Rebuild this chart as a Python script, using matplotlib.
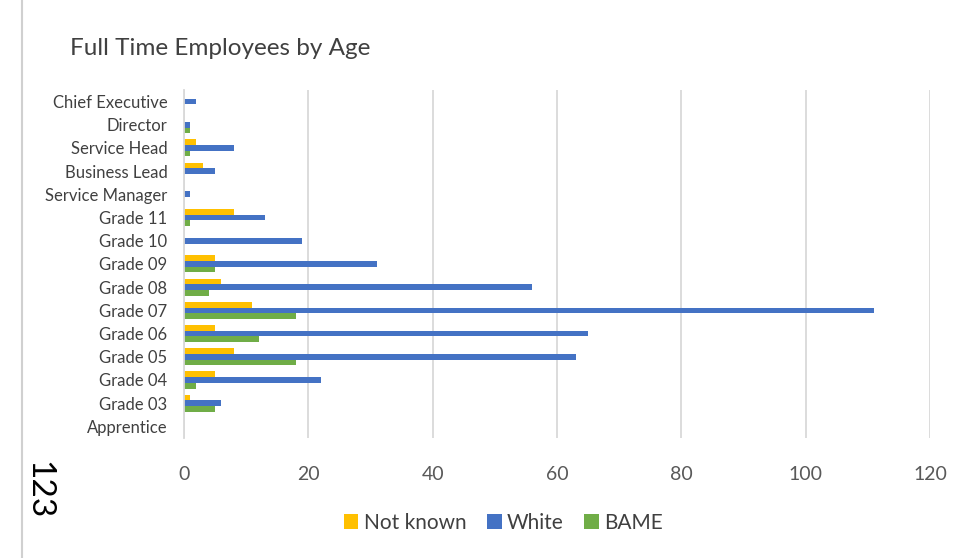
import numpy as np
import matplotlib.pyplot as plt

plt.rcParams['font.family'] = ['Lato', 'DejaVu Sans']

# categories listed bottom to top
grades = ['Apprentice', 'Grade 03', 'Grade 04', 'Grade 05', 'Grade 06', 'Grade 07',
          'Grade 08', 'Grade 09', 'Grade 10', 'Grade 11', 'Service Manager',
          'Business Lead', 'Service Head', 'Director', 'Chief Executive']
not_known = [0, 1, 5, 8, 5, 11, 6, 5, 0, 8, 0, 3, 2, 0, 0]
white = [0, 6, 22, 63, 65, 111, 56, 31, 19, 13, 1, 5, 8, 1, 2]
bame = [0, 5, 2, 18, 12, 18, 4, 5, 0, 1, 0, 0, 1, 1, 0]

fig = plt.figure(figsize=(9.68, 5.58), dpi=100)
ax = fig.add_axes([0.190, 0.215, 0.771, 0.624])

y = np.arange(len(grades))
h = 0.245
ax.barh(y + h, not_known, height=h, color='#FFC000', label='Not known')
ax.barh(y, white, height=h, color='#4472C4', label='White')
ax.barh(y - h, bame, height=h, color='#70AD47', label='BAME')

ax.set_xlim(0, 120)
ax.set_ylim(-0.5, len(grades) - 0.5)
ax.set_xticks(range(0, 121, 20))
ax.set_yticks(y)
ax.set_yticklabels(grades, fontsize=12, color='#404040')
ax.tick_params(axis='x', labelsize=14, colors='#595959', length=0, pad=20)
ax.tick_params(axis='y', length=0, pad=12)
ax.grid(axis='x', color='#d9d9d9', linewidth=1.3)
ax.set_axisbelow(True)
for s in ['top', 'right', 'bottom']:
    ax.spines[s].set_visible(False)
ax.spines['left'].set_color('#d9d9d9')
ax.spines['left'].set_linewidth(1.3)

fig.text(0.072, 0.913, 'Full Time Employees by Age', fontsize=17.5, color='#404040',
         va='center')

fig.legend(loc='center', bbox_to_anchor=(0.52, 0.063), ncol=3, frameon=False,
           fontsize=15, handlelength=0.7, handleheight=0.7, handletextpad=0.25,
           columnspacing=1.0, labelcolor='#404040')

# page margin line and page number
fig.add_artist(plt.Line2D([0.023, 0.023], [0, 1], color='#d0d0d0', linewidth=1.5))
fig.text(0.040, 0.122, '123', fontsize=24, rotation=270, ha='center', va='center')

plt.savefig('out.png')
